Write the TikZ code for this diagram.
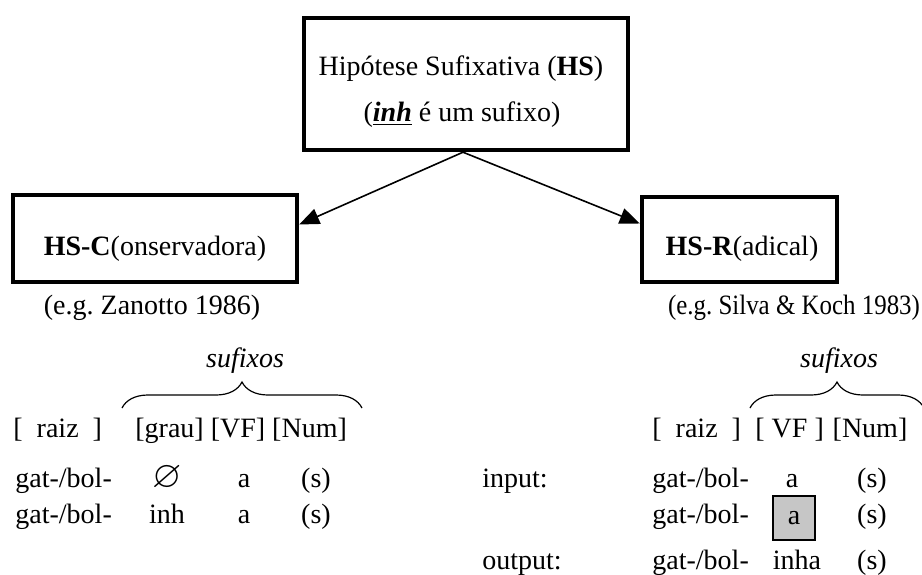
\documentclass[tikz,border=0pt]{standalone}
\usepackage{fontspec}
\setmainfont{Liberation Serif}
\usepackage{amssymb}
\usetikzlibrary{arrows.meta,decorations.pathreplacing}

\tikzset{
  hipbox/.style={draw, line width=2.2pt, inner sep=0pt},
  txt/.style={inner sep=0pt, anchor=base},
  txtw/.style={inner sep=0pt, anchor=base west},
  seta/.style={line width=0.8pt, -{Triangle[length=10pt,width=8pt]}},
  chave/.style={decorate, decoration={brace, amplitude=13pt}, line width=0.6pt},
  cinza/.style={draw, fill=gray!45, line width=0.8pt, minimum width=21pt, minimum height=22pt, inner sep=0pt},
}

\begin{document}
\begin{tikzpicture}[x=0.5pt, y=-0.5pt, every node/.append style={font=\fontsize{14}{17}\selectfont}]
  \useasboundingbox (0,0) rectangle (922,574);

  % caixas
  \node[hipbox, minimum width=162pt, minimum height=66pt] (hs) at (466,84) {};
  \node[hipbox, minimum width=142pt, minimum height=43.5pt] (hsc) at (155,238.5) {};
  \node[hipbox, minimum width=97.5pt, minimum height=42.5pt] (hsr) at (739.5,239.5) {};

  \node[txt] (hs1) at (461,75) {Hipótese Sufixativa (\textbf{HS})};
  \node[txt] (hs2) at (462,121) {(\underline{\textbf{\textit{inh}}} é um sufixo)};
  \node[txt] (hsclab) at (155,255) {\textbf{HS-C}(onservadora)};
  \node[txt] (hsrlab) at (742,255) {\textbf{HS-R}(adical)};

  \draw[seta] ([xshift=-1.5pt]hs.south) -- ([yshift=7pt]hsc.east);
  \draw[seta] ([xshift=-1.5pt]hs.south) -- ([yshift=8pt]hsr.west);

  \node[txt] (eg1) at (152,314) {(e.g.\ Zanotto 1986)};
  \node[txt] (eg2) at (794,314) {\scalebox{0.89}[1]{(e.g.\ Silva \& Koch 1983)}};

  % HS-C
  \coordinate (b1a) at (122,408);
  \coordinate (b1b) at (362,408);
  \draw[chave] (b1a) -- (b1b);
  \node[txt] (suf1) at (245,367) {\textit{sufixos}};
  \node[txtw] (lraiz) at (13,437) {[\ \ raiz\ \ ]};
  \node[txtw] (lsuf) at (135,437) {[grau] [VF] [Num]};

  \node[txtw] (lg1) at (15,487) {gat-/bol-};
  \node[txtw] (lg2) at (15,523) {gat-/bol-};
  \node[txt] (lz) at (167,487) {\scalebox{1.35}{$\varnothing$}};
  \node[txt] (linh) at (167,523) {inh};
  \node[txt] (la1) at (244,487) {a};
  \node[txt] (la2) at (244,523) {a};
  \node[txt] (ls1) at (316,487) {(s)};
  \node[txt] (ls2) at (316,523) {(s)};

  % HS-R
  \coordinate (b2a) at (750,408);
  \coordinate (b2b) at (924,408);
  \draw[chave] (b2a) -- (b2b);
  \node[txt] (suf2) at (839,367) {\textit{sufixos}};
  \node[txtw] (rraiz) at (652,437) {[\ \ raiz\ \ ]};
  \node[txtw] (rvf) at (755,437) {[ VF ]};
  \node[txt] (rnum) at (870,437) {[Num]};

  \node[txtw] (inp) at (482,487) {input:};
  \node[txtw] (outp) at (482,569) {output:};
  \node[txtw] (rg1) at (652,487) {gat-/bol-};
  \node[txtw] (rg2) at (652,523) {gat-/bol-};
  \node[txtw] (rg3) at (652,569) {gat-/bol-};
  \node[txt] (ra1) at (792,487) {a};
  \node[cinza] (ra2) at (794,518) {a};
  \node[txt] (rinha) at (797,569) {inha};
  \node[txt] (rs1) at (872,487) {(s)};
  \node[txt] (rs2) at (872,523) {(s)};
  \node[txt] (rs3) at (872,569) {(s)};
\end{tikzpicture}
\end{document}
